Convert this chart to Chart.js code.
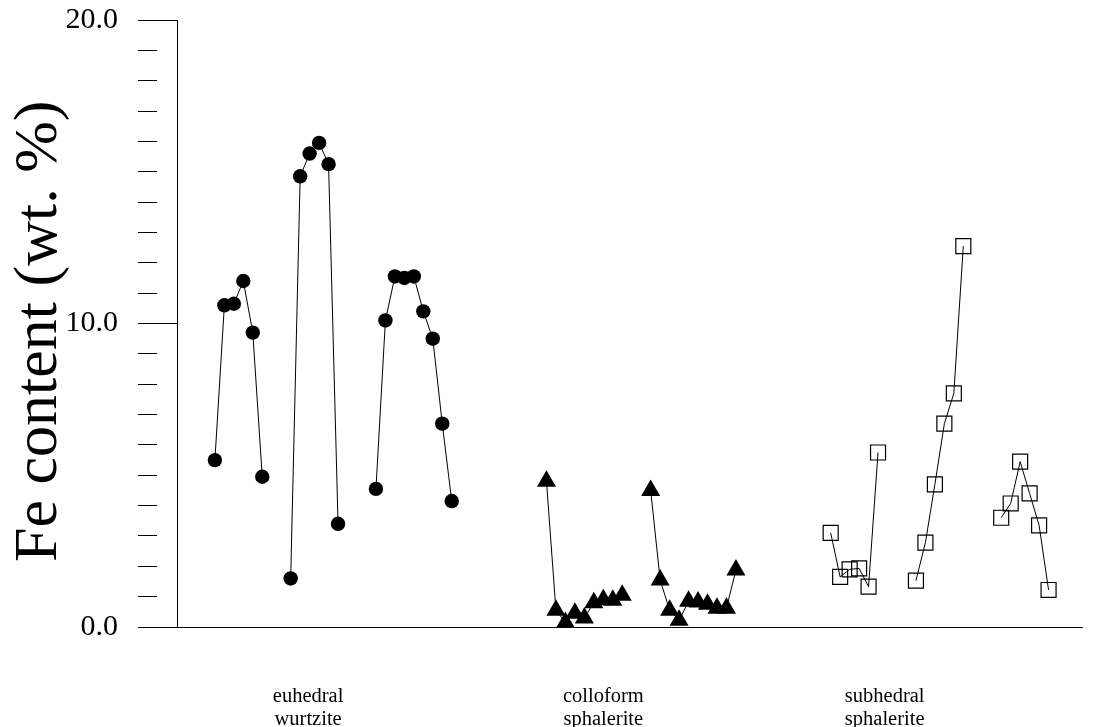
<!DOCTYPE html>
<html>
<head>
<meta charset="utf-8">
<script src="https://cdn.jsdelivr.net/npm/chart.js@4/dist/chart.umd.min.js"></script>
<style>
  html, body { margin: 0; padding: 0; background: #ffffff; }
  #wrap { width: 1094px; height: 727px; position: relative; }
</style>
</head>
<body>
<div id="wrap"><canvas id="c" width="1094" height="727"></canvas></div>
<script>
// ---- Data: Fe content (wt. %) along each analysed traverse ----
const euhedralWurtzite1 = [5.5, 10.6, 10.65, 11.4, 9.7, 4.95];
const euhedralWurtzite2 = [1.6, 14.85, 15.6, 15.95, 15.25, 3.4];
const euhedralWurtzite3 = [4.55, 10.1, 11.55, 11.5, 11.55, 10.4, 9.5, 6.7, 4.15];

const colloformSphalerite1 = [4.8, 0.55, 0.15, 0.45, 0.3, 0.8, 0.9, 0.88, 1.05];
const colloformSphalerite2 = [4.5, 1.55, 0.55, 0.22, 0.85, 0.82, 0.75, 0.62, 0.62, 1.88];

const subhedralSphalerite1 = [3.1, 1.65, 1.9, 1.93, 1.33, 5.75];
const subhedralSphalerite2 = [1.53, 2.78, 4.7, 6.7, 7.7, 12.55];
const subhedralSphalerite3 = [3.6, 4.07, 5.45, 4.4, 3.35, 1.22];

// analysis-spot number at which each traverse begins (sequence order on the x axis)
const traverseStartSpot = [0, 8, 17, 35, 46, 65, 74, 83];

// category names and the spot number under which each name is written
const categories = [["euhedral", "wurtzite"], ["colloform", "sphalerite"], ["subhedral", "sphalerite"]];
const categorySpot = [9.84, 41.0, 70.7];

// y tick labels
const yTickValues = [0, 10, 20];
const yTickLabels = ["0.0", "10.0", "20.0"];

// ---- Build datasets ----
function traverse(values, start) {
  return values.map((v, i) => ({ x: start + i, y: v }));
}

const circleStyle = {
  pointStyle: 'circle', pointRadius: 7.2, pointBackgroundColor: '#000', pointBorderColor: '#000', pointBorderWidth: 0
};
const triangleStyle = {
  pointStyle: 'triangle', pointRadius: 11, pointBackgroundColor: '#000', pointBorderColor: '#000', pointBorderWidth: 0
};
const squareStyle = {
  pointStyle: 'rect', pointRadius: 10.6, pointBackgroundColor: 'rgba(0,0,0,0)', pointBorderColor: '#000', pointBorderWidth: 1.2
};

const groups = [
  [euhedralWurtzite1, circleStyle],
  [euhedralWurtzite2, circleStyle],
  [euhedralWurtzite3, circleStyle],
  [colloformSphalerite1, triangleStyle],
  [colloformSphalerite2, triangleStyle],
  [subhedralSphalerite1, squareStyle],
  [subhedralSphalerite2, squareStyle],
  [subhedralSphalerite3, squareStyle]
];

const datasets = groups.map(([vals, style], gi) => Object.assign({
  data: traverse(vals, traverseStartSpot[gi]),
  showLine: true,
  borderColor: '#000',
  borderWidth: 1,
  clip: false
}, style));

const SERIF = "'Liberation Serif', 'Times New Roman', serif";

new Chart(document.getElementById('c'), {
  type: 'scatter',
  data: { datasets },
  options: {
    responsive: false,
    animation: false,
    devicePixelRatio: 1,
    layout: { padding: { top: 20, right: 9, bottom: 0, left: 0 } },
    plugins: { legend: { display: false }, tooltip: { enabled: false } },
    scales: {
      x: {
        type: 'linear',
        min: -4,
        max: 91.55,
        grid: { display: false, drawTicks: false, tickLength: 0 },
        border: { display: true, color: '#000', width: 1 },
        afterBuildTicks: (s) => { s.ticks = categorySpot.map(v => ({ value: v })); },
        afterFit: (s) => { s.height = 100; s.paddingLeft = 0; s.paddingRight = 0; },
        ticks: {
          autoSkip: false,
          maxRotation: 0,
          padding: 58.5,
          color: '#000',
          font: { family: SERIF, size: 20.5, lineHeight: '23px' },
          callback: (v, i) => categories[i]
        }
      },
      y: {
        min: 0,
        max: 20,
        afterFit: (s) => { s.width = 177; s.paddingTop = 0; s.paddingBottom = 0; },
        border: { display: true, color: '#000', width: 1 },
        grid: {
          drawOnChartArea: false,
          drawTicks: true,
          tickLength: 39,
          tickColor: '#000',
          tickWidth: 1,
          tickBorderDash: (ctx) => (ctx.tick && yTickValues.includes(ctx.tick.value)) ? [] : [19, 40]
        },
        ticks: {
          stepSize: 1,
          autoSkip: false,
          padding: 20,
          color: '#000',
          font: { family: SERIF, size: 30 },
          callback: (v) => { const k = yTickValues.indexOf(v); return k >= 0 ? yTickLabels[k] : ''; }
        },
        title: {
          display: true,
          text: 'Fe content (wt. %) ',
          color: '#000',
          padding: { top: 3, bottom: 0 },
          font: { family: SERIF, size: 62, lineHeight: 1.2 }
        }
      }
    }
  }
});
</script>
</body>
</html>
